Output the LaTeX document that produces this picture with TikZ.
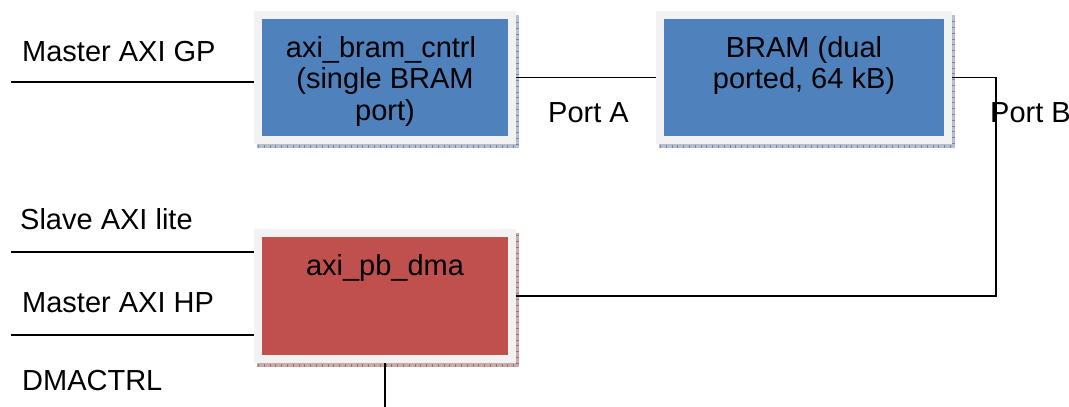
\documentclass[tikz,border=0pt]{standalone}
\usepackage{fontspec}
\setmainfont{Liberation Sans}
\usetikzlibrary{positioning,backgrounds}

\definecolor{boxblue}{HTML}{4F81BD}
\definecolor{boxred}{HTML}{C0504D}
\definecolor{framegray}{HTML}{F2F2F2}
\definecolor{blueshade}{HTML}{B4C0D2}
\definecolor{redshade}{HTML}{CDAAAA}

\begin{document}
\begin{tikzpicture}[
    x=1pt, y=-1pt,
    every node/.style={font=\fontsize{29}{31.5}\selectfont},
    block/.style={
        draw=framegray,
        line width=8pt,             % light frame round the fill
        inner sep=0pt,
        minimum width=254pt,
        minimum height=125pt
    },
    bluebox/.style={block, fill=boxblue},
    redbox/.style={block, fill=boxred},
    boxtext/.style={inner sep=0pt, align=center},
    sig/.style={inner sep=0pt, anchor=base west},
    wire/.style={line width=1.6pt}
]
\useasboundingbox (0,0) rectangle (1069,407);

% blocks
\node[bluebox] (cntrl) at (385,77.5) {};
\node[bluebox, minimum width=288pt] (bram) at (804,77.5) {};
\node[redbox, minimum height=126pt] (dma) at (385,296) {};

\node[boxtext, below=25pt of cntrl.north] (cntrltxt)
    {axi\_bram\_cntrl\hspace*{8pt}\\(single BRAM\\port)};
\node[boxtext, below=25pt of bram.north] (bramtxt)
    {BRAM (dual\\ported, 64 kB)};
\node[boxtext, below=25pt of dma.north] (dmatxt) {axi\_pb\_dma};

% shadows
\begin{scope}[on background layer]
  \foreach \b/\c in {cntrl/blueshade, bram/blueshade, dma/redshade} {
    \fill[\c] ([xshift=3pt,yshift=-4pt]\b.south east)
        rectangle ([xshift=3pt,yshift=-4pt]\b.north west);
    \draw[\c!70!black, line width=3pt, dash pattern=on 0.8pt off 5pt]
        ([xshift=4pt,yshift=-2pt]\b.south west) -- ([xshift=1.5pt,yshift=-2pt]\b.south east)
        -- ([xshift=1.5pt,yshift=-6pt]\b.north east);
  }
\end{scope}

% signal labels
\node[sig] (gplbl) at (22,61) {Master AXI GP};
\node[sig] (porta) at (548,122) {Port A};
\node[sig] (portb) at (990,122) {Port B};
\node[sig] (litelbl) at (20,229) {Slave AXI lite};
\node[sig] (hplbl) at (22,312) {Master AXI HP};
\node[sig] (ctrllbl) at (22,390) {DMACTRL};

% wires
\coordinate (gpin) at (11,82);
\coordinate (litein) at (11,252);
\coordinate (hpin) at (11,335);
\coordinate (bend) at (996,0);
\coordinate (ctrlout) at (385,407);

\draw[wire] (gpin) -- (gpin -| cntrl.west);
\draw[wire] (litein) -- (litein -| dma.west);
\draw[wire] (hpin) -- (hpin -| dma.west);
\draw[wire] (cntrl.east) -- (bram.west);
\draw[wire] (bram.east) -- (bram.east -| bend) |- (dma.east);
\draw[wire] (dma.south) -- (ctrlout);

\end{tikzpicture}
\end{document}
